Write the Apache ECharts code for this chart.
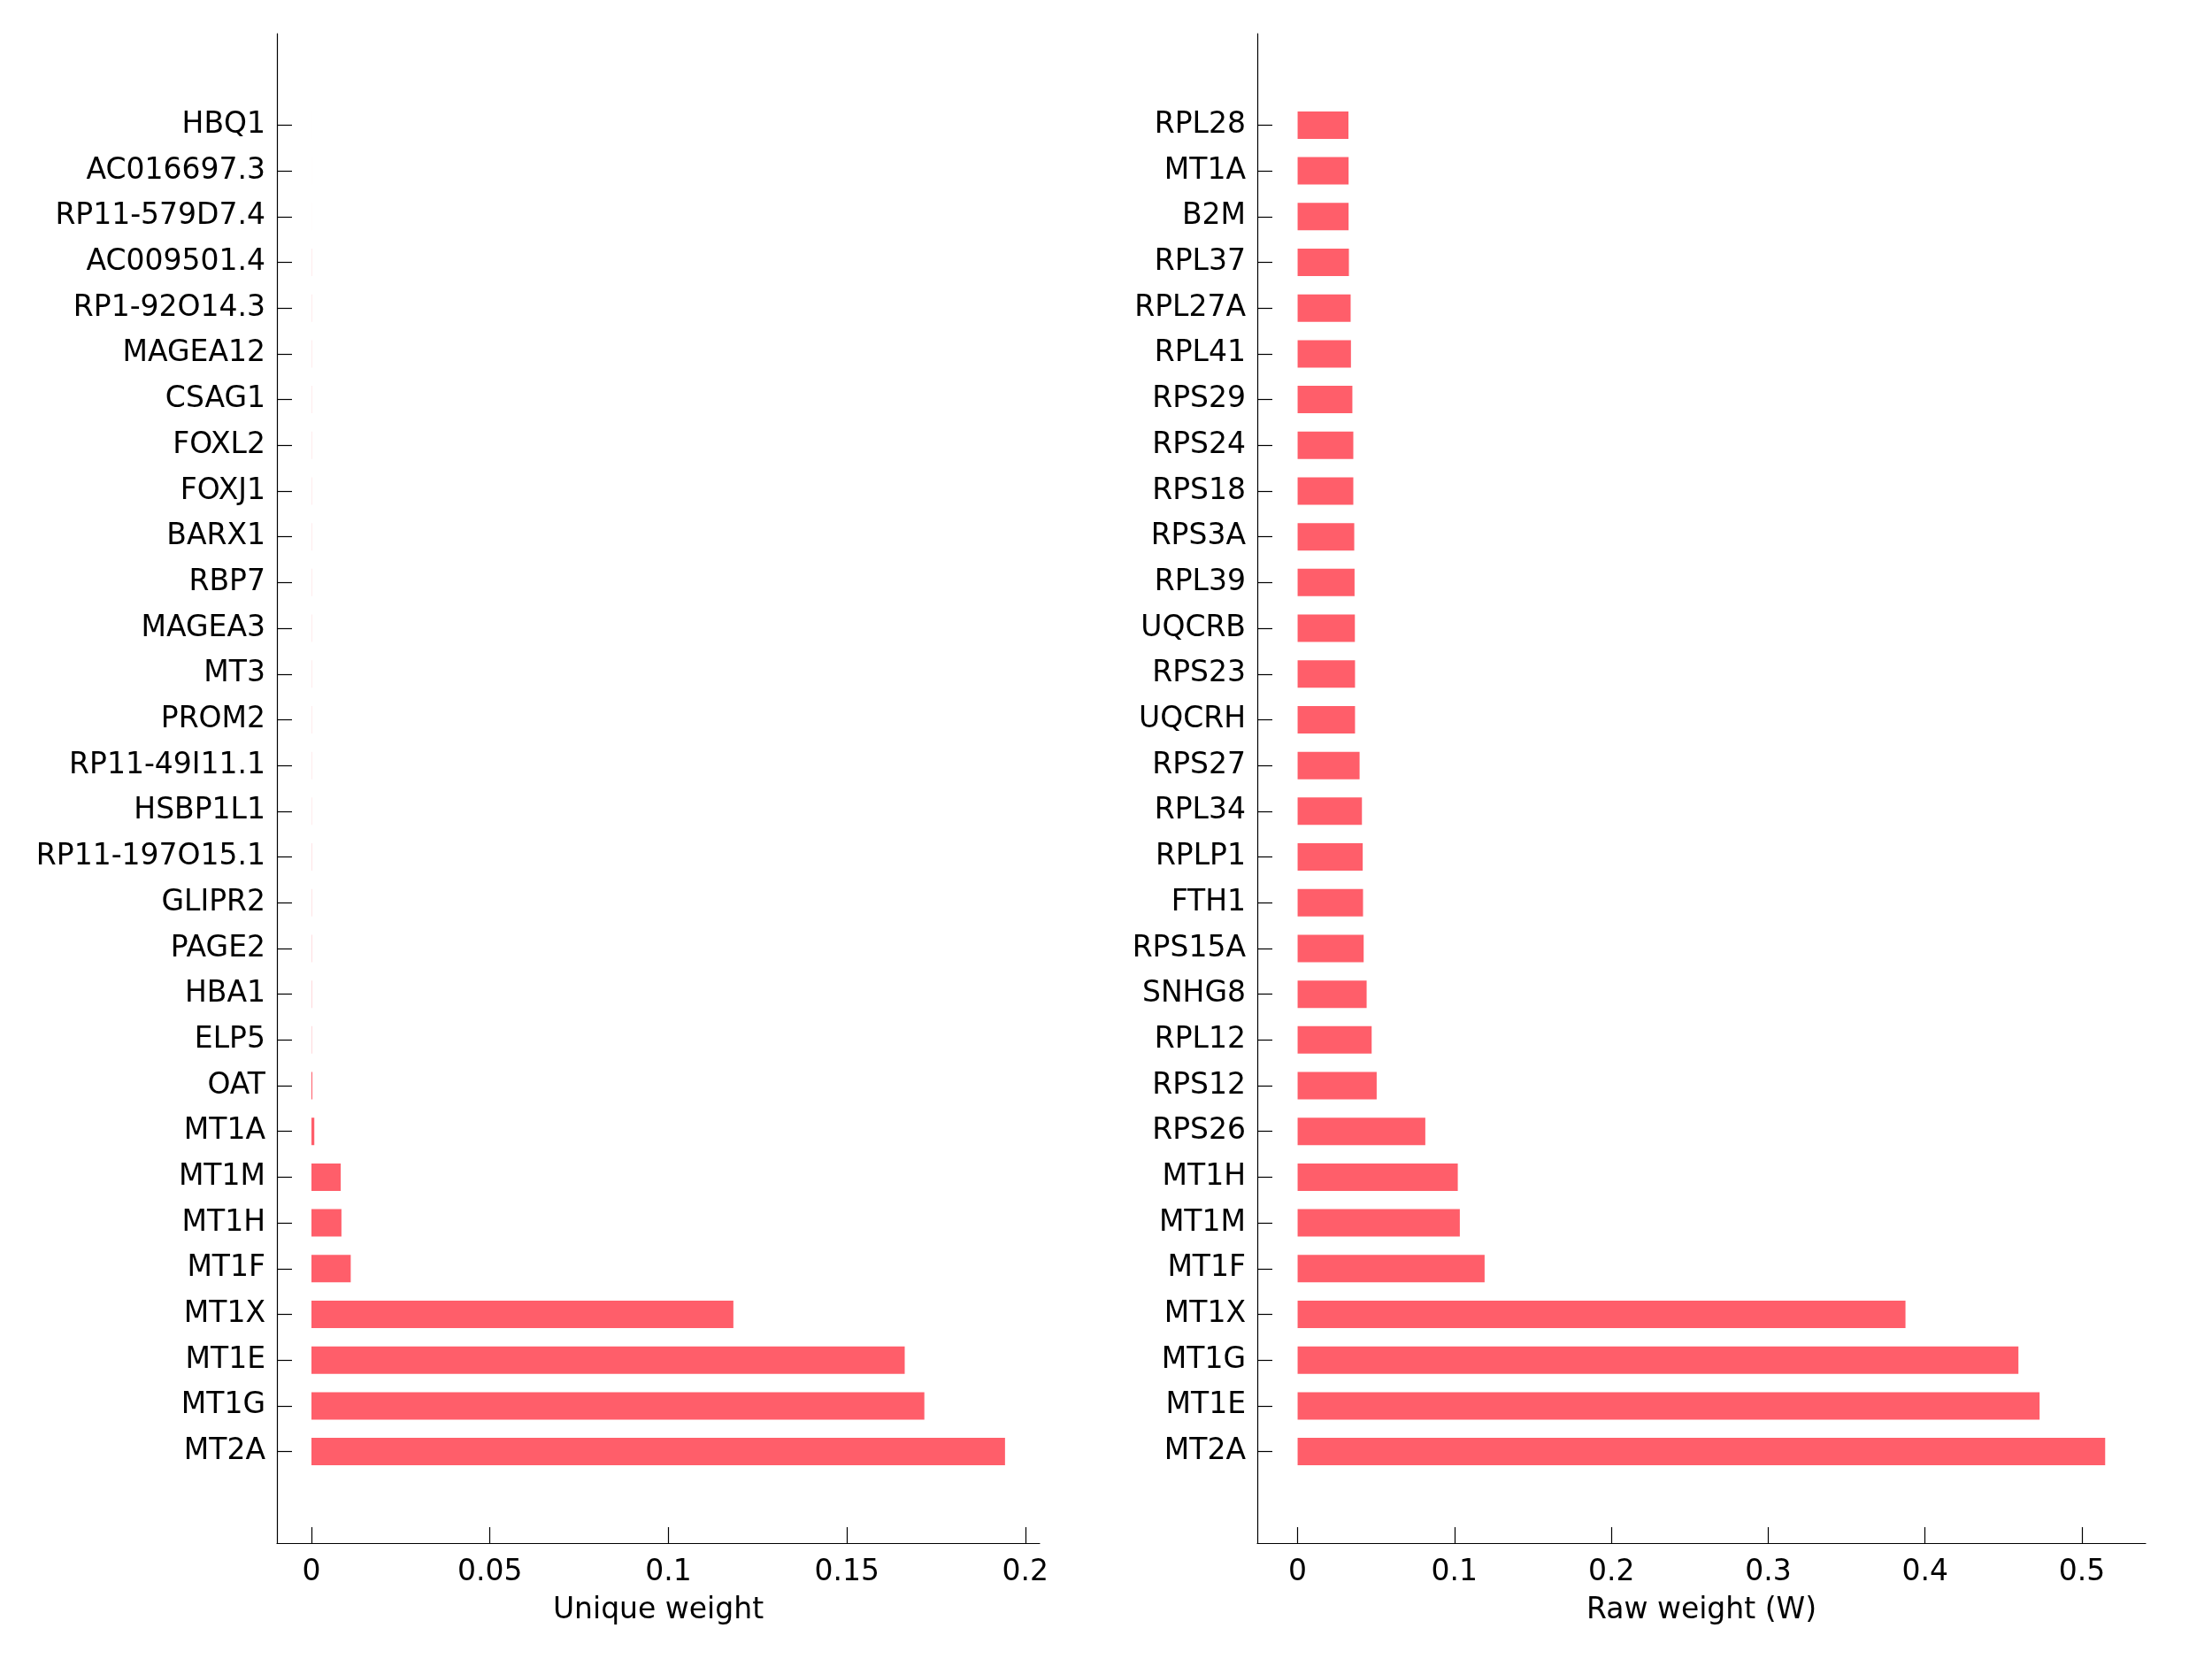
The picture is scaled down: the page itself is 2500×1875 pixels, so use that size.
<!DOCTYPE html>
<html>
<head>
<meta charset="utf-8">
<script src="https://cdn.jsdelivr.net/npm/echarts@6/dist/echarts.min.js"></script>
<style>
html,body{margin:0;padding:0;background:#fff;}
#chart{width:2500px;height:1875px;}
</style>
</head>
<body>
<div id="chart"></div>
<script>
// Left panel (bottom to top)
const uniqueGenes = ['MT2A','MT1G','MT1E','MT1X','MT1F','MT1H','MT1M','MT1A','OAT','ELP5','HBA1','PAGE2','GLIPR2','RP11-197O15.1','HSBP1L1','RP11-49I11.1','PROM2','MT3','MAGEA3','RBP7','BARX1','FOXJ1','FOXL2','CSAG1','MAGEA12','RP1-92O14.3','AC009501.4','RP11-579D7.4','AC016697.3','HBQ1'];
const uniqueWeights = [0.1943,0.1717,0.1662,0.1182,0.0110,0.0084,0.0082,0.0008,0.00025,0.00006,0.00006,0.00005,0.00004,0.00004,0.00003,0.00003,0.00003,0.00003,0.00003,0.00003,0.00003,0.00003,0.00003,0.00003,0.00003,0.00003,0.00003,0.000005,0.000003,0.000002];
const uniqueTicks = [0,0.05,0.1,0.15,0.2];

// Right panel (bottom to top)
const rawGenes = ['MT2A','MT1E','MT1G','MT1X','MT1F','MT1M','MT1H','RPS26','RPS12','RPL12','SNHG8','RPS15A','FTH1','RPLP1','RPL34','RPS27','UQCRH','RPS23','UQCRB','RPL39','RPS3A','RPS18','RPS24','RPS29','RPL41','RPL27A','RPL37','B2M','MT1A','RPL28'];
const rawWeights = [0.5148,0.4730,0.4595,0.3875,0.1192,0.1034,0.1021,0.0814,0.0504,0.0472,0.0440,0.0421,0.0417,0.0415,0.0410,0.0395,0.0366,0.0366,0.0365,0.0363,0.0361,0.0355,0.0355,0.0349,0.0340,0.0338,0.0327,0.0325,0.0325,0.0324];
const rawTicks = [0,0.1,0.2,0.3,0.4,0.5];

const PAD = 2;
function padCats(names){
  const out = [];
  for(let i=0;i<PAD;i++) out.push('');
  names.forEach(n=>out.push(n));
  for(let i=0;i<PAD;i++) out.push('');
  return out;
}
function toData(vals){ return vals.map((v,i)=>[v, i+PAD]); }

const FONT = 'DejaVu Sans';
const FS = 33;
const BAR = '#ff5e6a';

function xAxisCfg(idx, min, max, ticks, name){
  return {
    type:'value', gridIndex:idx, min:min, max:max,
    splitLine:{show:false},
    axisLine:{show:true, onZero:false, lineStyle:{color:'#000', width:1.2}},
    axisTick:{show:true, inside:true, length:18, customValues:ticks, lineStyle:{color:'#000', width:1.2}},
    axisLabel:{show:true, customValues:ticks, color:'#000', fontFamily:FONT, fontSize:FS, margin:17},
    name:name, nameLocation:'middle', nameGap:60,
    nameTextStyle:{color:'#000', fontFamily:FONT, fontSize:FS}
  };
}
function yAxisCfg(idx, names){
  return {
    type:'category', gridIndex:idx, data:padCats(names), boundaryGap:false,
    axisLine:{show:true, onZero:false, lineStyle:{color:'#000', width:1.2}},
    axisTick:{show:true, inside:true, length:17, interval:function(i,v){return v!=='';}, lineStyle:{color:'#000', width:1.2}},
    axisLabel:{show:true, interval:0, color:'#000', fontFamily:FONT, fontSize:FS, margin:13},
    splitLine:{show:false}
  };
}

const chart = echarts.init(document.getElementById('chart'), null, {renderer:'canvas'});
chart.setOption({
  backgroundColor:'#fff',
  animation:false,
  grid:[
    {left:313, top:38, width:862, height:1706, containLabel:false},
    {left:1421, top:38, width:1004, height:1706, containLabel:false}
  ],
  xAxis:[
    xAxisCfg(0, -0.00967, 0.204, uniqueTicks, 'Unique weight'),
    xAxisCfg(1, -0.0257, 0.5406, rawTicks, 'Raw weight (W)')
  ],
  yAxis:[ yAxisCfg(0, uniqueGenes), yAxisCfg(1, rawGenes) ],
  series:[
    {type:'bar', xAxisIndex:0, yAxisIndex:0, data:toData(uniqueWeights), barWidth:31, itemStyle:{color:BAR}},
    {type:'bar', xAxisIndex:1, yAxisIndex:1, data:toData(rawWeights), barWidth:31, itemStyle:{color:BAR}}
  ]
});
</script>
</body>
</html>
